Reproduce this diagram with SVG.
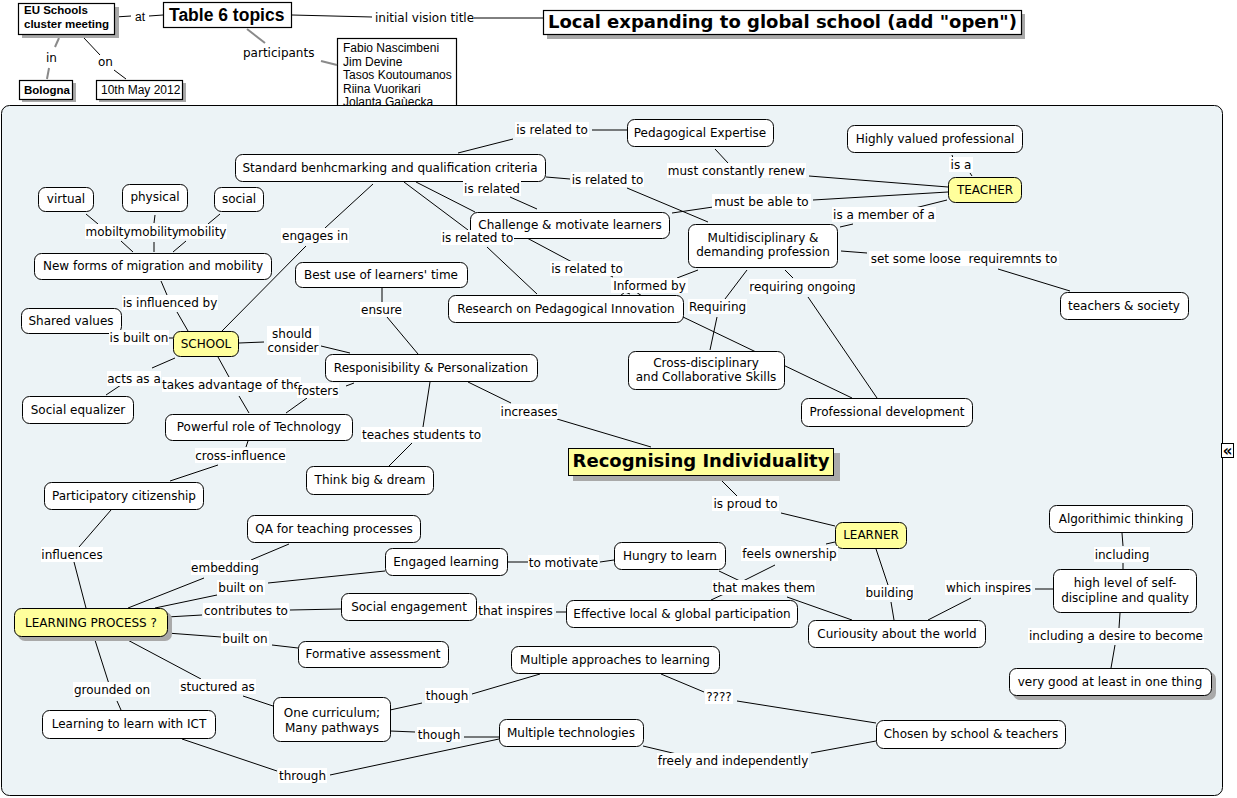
<svg xmlns="http://www.w3.org/2000/svg" width="1237" height="798" viewBox="0 0 1237 798">
<style>
.n{fill:#fff;stroke:#000;stroke-width:1}
.y{fill:#ffff9c;stroke:#000;stroke-width:1}
.b{fill:#fff;stroke:#000;stroke-width:1.2}
.sh{fill:#a9a9a9}
.t{font-family:"DejaVu Sans",Verdana,sans-serif;font-size:12px;fill:#000;text-anchor:middle}
.ts{font-family:"DejaVu Sans",Verdana,sans-serif;font-size:12px;fill:#000}
.a{font-family:"Liberation Sans",Arial,sans-serif;font-size:12px;fill:#000}
.ab{font-family:"Liberation Sans",Arial,sans-serif;font-size:11.5px;font-weight:bold;fill:#000}
.big{font-family:"DejaVu Sans",Verdana,sans-serif;font-size:18px;font-weight:bold;fill:#000}
.lb{fill:#fff}
#connectors line,#connectors polyline{stroke:#000;stroke-width:1;fill:none}
#connectors .g{stroke:#8a8a8a;stroke-width:2}
</style>

<!-- top area (outside panel) -->
<g id="participants-box">
<rect class="b" x="337.5" y="38.5" width="119" height="80"/>
<text class="a" x="343" y="52">Fabio Nascimbeni</text>
<text class="a" x="343" y="65.6">Jim Devine</text>
<text class="a" x="343" y="79.2">Tasos Koutoumanos</text>
<text class="a" x="343" y="92.8">Riina Vuorikari</text>
<text class="a" x="343" y="106.4">Jolanta Gaùecka</text>
</g>

<!-- main panel -->
<rect id="panel" x="1.5" y="105.5" width="1221" height="690" rx="8" fill="#ecf3f6" stroke="#000" stroke-width="1"/>
<g id="collapse"><rect x="1221.5" y="443.5" width="12" height="14" fill="#fff" stroke="#000"/><text x="1227.5" y="455.5" font-family="DejaVu Sans,sans-serif" font-size="15" font-weight="bold" text-anchor="middle">«</text></g>

<g id="connectors">
<!-- top -->
<line x1="115" y1="17" x2="131" y2="16"/>
<line x1="149" y1="16" x2="163" y2="15"/>
<line x1="292" y1="15" x2="372" y2="17"/>
<line x1="474" y1="18" x2="543" y2="18"/>
<line class="g" x1="247" y1="29" x2="265" y2="43"/>
<line class="g" x1="321" y1="61" x2="337" y2="65"/>
<line class="g" x1="59" y1="38" x2="55" y2="47"/>
<line class="g" x1="49" y1="68" x2="47" y2="79"/>
<line x1="84" y1="38" x2="100" y2="55"/>
<line x1="114" y1="70" x2="126" y2="79"/>
<!-- panel -->
<line x1="458" y1="153" x2="513" y2="139"/>
<line x1="592" y1="130" x2="627" y2="130"/>
<line x1="715" y1="149" x2="728" y2="163"/>
<line x1="809" y1="176" x2="948" y2="187"/>
<line x1="672" y1="213" x2="713" y2="207"/>
<line x1="813" y1="200" x2="948" y2="192"/>
<line x1="952" y1="155" x2="953" y2="158"/>
<line x1="970" y1="173" x2="972" y2="176"/>
<line x1="947" y1="200" x2="915" y2="208"/>
<line x1="853" y1="224" x2="840" y2="227"/>
<line x1="841" y1="251" x2="867" y2="253"/>
<line x1="998" y1="269" x2="1070" y2="291"/>
<line x1="546" y1="177" x2="570" y2="179"/>
<line x1="627" y1="188" x2="708" y2="222"/>
<line x1="510" y1="197" x2="537" y2="209"/>
<line x1="416" y1="182" x2="475" y2="212"/>
<line x1="404" y1="182" x2="468" y2="230"/>
<line x1="487" y1="247" x2="537" y2="294"/>
<line x1="527" y1="238" x2="572" y2="262"/>
<line x1="605" y1="273" x2="613" y2="277"/>
<polyline points="620,296 625,292 630,294"/>
<polyline points="636,292 642,296"/>
<line x1="698" y1="270" x2="677" y2="278"/>
<line x1="747" y1="270" x2="725" y2="299"/>
<line x1="717" y1="317" x2="710" y2="350"/>
<line x1="785" y1="270" x2="793" y2="278"/>
<line x1="808" y1="297" x2="877" y2="398"/>
<line x1="683" y1="317" x2="852" y2="398"/>
<line x1="373" y1="184" x2="325" y2="228"/>
<line x1="306" y1="246" x2="222" y2="331"/>
<line x1="86" y1="214" x2="98" y2="224"/>
<line x1="121" y1="241" x2="133" y2="252"/>
<line x1="155" y1="215" x2="154" y2="223"/>
<line x1="154" y1="242" x2="154" y2="252"/>
<line x1="220" y1="214" x2="208" y2="224"/>
<line x1="186" y1="241" x2="173" y2="252"/>
<line x1="161" y1="281" x2="167" y2="295"/>
<line x1="177" y1="312" x2="188" y2="331"/>
<line x1="168" y1="338" x2="173" y2="338"/>
<line x1="239" y1="343" x2="264" y2="342"/>
<line x1="321" y1="346" x2="350" y2="353"/>
<line x1="175" y1="358" x2="152" y2="368"/>
<line x1="121" y1="385" x2="106" y2="395"/>
<line x1="218" y1="357" x2="229" y2="377"/>
<line x1="239" y1="396" x2="249" y2="413"/>
<line x1="354" y1="383" x2="346" y2="386"/>
<line x1="307" y1="398" x2="286" y2="413"/>
<line x1="382" y1="288" x2="382" y2="302"/>
<line x1="387" y1="317" x2="418" y2="354"/>
<line x1="430" y1="382" x2="423" y2="427"/>
<line x1="412" y1="443" x2="389" y2="466"/>
<line x1="468" y1="382" x2="511" y2="403"/>
<line x1="557" y1="419" x2="651" y2="447"/>
<line x1="248" y1="441" x2="246" y2="447"/>
<line x1="218" y1="465" x2="170" y2="481"/>
<line x1="111" y1="510" x2="79" y2="547"/>
<line x1="74" y1="562" x2="86" y2="608"/>
<line x1="289" y1="544" x2="251" y2="560"/>
<line x1="204" y1="578" x2="128" y2="608"/>
<line x1="385" y1="571" x2="268" y2="583"/>
<line x1="217" y1="595" x2="155" y2="608"/>
<line x1="167" y1="617" x2="202" y2="615"/>
<line x1="290" y1="610" x2="341" y2="609"/>
<line x1="167" y1="633" x2="221" y2="637"/>
<line x1="272" y1="645" x2="298" y2="648"/>
<line x1="122" y1="637" x2="201" y2="679"/>
<line x1="243" y1="696" x2="273" y2="706"/>
<line x1="94" y1="637" x2="109" y2="684"/>
<line x1="117" y1="701" x2="121" y2="710"/>
<line x1="182" y1="739" x2="277" y2="771"/>
<line x1="330" y1="775" x2="499" y2="739"/>
<line x1="390" y1="710" x2="422" y2="703"/>
<line x1="472" y1="694" x2="540" y2="674"/>
<line x1="390" y1="731" x2="415" y2="732"/>
<line x1="464" y1="737" x2="499" y2="737"/>
<line x1="508" y1="562" x2="528" y2="562"/>
<line x1="600" y1="562" x2="614" y2="560"/>
<line x1="476" y1="608" x2="479" y2="612"/>
<line x1="556" y1="612" x2="566" y2="612"/>
<line x1="835" y1="542" x2="826" y2="544"/>
<line x1="775" y1="565" x2="743" y2="581"/>
<line x1="719" y1="571" x2="740" y2="581"/>
<line x1="787" y1="597" x2="852" y2="620"/>
<line x1="724" y1="594" x2="711" y2="600"/>
<line x1="876" y1="549" x2="888" y2="585"/>
<line x1="891" y1="602" x2="894" y2="620"/>
<line x1="928" y1="620" x2="971" y2="598"/>
<line x1="1035" y1="589" x2="1053" y2="589"/>
<line x1="1122" y1="533" x2="1123" y2="546"/>
<line x1="1123" y1="563" x2="1123" y2="569"/>
<line x1="1120" y1="613" x2="1119" y2="628"/>
<line x1="1115" y1="645" x2="1111" y2="668"/>
<line x1="661" y1="674" x2="704" y2="692"/>
<line x1="737" y1="701" x2="876" y2="723"/>
<line x1="643" y1="746" x2="681" y2="755"/>
<line x1="811" y1="753" x2="876" y2="741"/>
<line x1="718" y1="477" x2="737" y2="496"/>
<line x1="781" y1="513" x2="835" y2="526"/>
</g>

<!-- top nodes -->
<g id="eu-meeting"><rect class="sh" x="22" y="7" width="97" height="31"/><rect class="b" x="18.5" y="3.5" width="96" height="31"/><text class="ab" x="24" y="14">EU Schools</text><text class="ab" x="24" y="28">cluster meeting</text></g>
<g id="table6"><rect class="b" x="163.5" y="2.5" width="128" height="25"/><text x="169" y="21" font-family="Liberation Sans,Arial,sans-serif" font-size="17.5" font-weight="bold">Table 6 topics</text></g>
<g id="vision"><rect class="sh" x="547" y="14" width="478" height="25"/><rect class="b" x="543.5" y="10.5" width="478" height="24"/><text x="548" y="28" font-family="DejaVu Sans,Verdana,sans-serif" font-size="18" font-weight="bold">Local expanding to global school (add "open")</text></g>
<g id="bologna"><rect class="sh" x="22" y="83" width="54" height="19"/><rect class="b" x="19.5" y="80.5" width="53" height="19"/><text class="ab" x="24" y="94">Bologna</text></g>
<g id="date"><rect class="sh" x="99" y="83" width="87" height="19"/><rect class="b" x="96.5" y="80.5" width="86" height="19"/><text class="a" x="101" y="94">10th May 2012</text></g>

<!-- top labels -->
<g id="top-labels">
<text class="a" x="135" y="21">at</text>
<text class="ts" x="375" y="22">initial vision title</text>
<text class="ts" x="243" y="57">participants</text>
<text class="ts" x="46" y="62">in</text>
<text class="ts" x="98" y="66">on</text>
</g>

<!-- panel nodes -->
<g id="std"><rect class="n" x="235.5" y="154.5" width="310" height="27" rx="7"/><text class="t" x="390" y="172">Standard benhcmarking and qualification criteria</text></g>
<g id="ped"><rect class="n" x="627.5" y="119.5" width="146" height="27" rx="7"/><text class="t" x="700" y="137">Pedagogical Expertise</text></g>
<g id="hvp"><rect class="n" x="847.5" y="125.5" width="175" height="27" rx="7"/><text class="t" x="935" y="143">Highly valued professional</text></g>
<g id="teacher"><rect class="y" x="948.5" y="177.5" width="73" height="25" rx="7"/><text class="t" x="985" y="194">TEACHER</text></g>
<g id="virtual"><rect class="n" x="38.5" y="187.5" width="55" height="24" rx="7"/><text class="t" x="66" y="203">virtual</text></g>
<g id="physical"><rect class="n" x="122.5" y="184.5" width="65" height="27" rx="7"/><text class="t" x="155" y="201">physical</text></g>
<g id="social"><rect class="n" x="214.5" y="187.5" width="49" height="24" rx="7"/><text class="t" x="239" y="203">social</text></g>
<g id="challenge"><rect class="n" x="470.5" y="212.5" width="199" height="26" rx="7"/><text class="t" x="570" y="229">Challenge &amp; motivate learners</text></g>
<g id="multi"><rect class="n" x="688.5" y="224.5" width="149" height="43" rx="7"/><text class="t" x="763" y="242">Multidisciplinary &amp;</text><text class="t" x="763" y="256">demanding profession</text></g>
<g id="newforms"><rect class="n" x="34.5" y="253.5" width="237" height="26" rx="7"/><text class="t" x="153" y="270">New forms of migration and mobility</text></g>
<g id="bestuse"><rect class="n" x="295.5" y="262.5" width="172" height="25" rx="7"/><text class="t" x="381" y="279">Best use of learners' time</text></g>
<g id="teasoc"><rect class="n" x="1060.5" y="292.5" width="128" height="27" rx="7"/><text class="t" x="1124" y="310">teachers &amp; society</text></g>
<g id="research"><rect class="n" x="448.5" y="295.5" width="235" height="27" rx="7"/><text class="t" x="566" y="313">Research on Pedagogical Innovation</text></g>
<g id="shared"><rect class="n" x="21.5" y="308.5" width="100" height="25" rx="7"/><text class="t" x="71" y="325">Shared values</text></g>
<g id="school"><rect class="y" x="173.5" y="331.5" width="65" height="25" rx="7"/><text class="t" x="206" y="348">SCHOOL</text></g>
<g id="resp"><rect class="n" x="325.5" y="354.5" width="212" height="27" rx="7"/><text class="t" x="431" y="372">Responisibility &amp; Personalization</text></g>
<g id="cross"><rect class="n" x="628.5" y="351.5" width="156" height="38" rx="7"/><text class="t" x="706" y="367">Cross-disciplinary</text><text class="t" x="706" y="381">and Collaborative Skills</text></g>
<g id="profdev"><rect class="n" x="801.5" y="398.5" width="171" height="28" rx="7"/><text class="t" x="887" y="416">Professional development</text></g>
<g id="socialeq"><rect class="n" x="22.5" y="396.5" width="111" height="27" rx="7"/><text class="t" x="78" y="414">Social equalizer</text></g>
<g id="powerful"><rect class="n" x="165.5" y="414.5" width="187" height="26" rx="7"/><text class="t" x="259" y="431">Powerful role of Technology</text></g>
<g id="recog"><rect class="sh" x="573" y="453" width="267" height="28"/><rect class="y" x="568.5" y="448.5" width="265" height="27"/><text class="big" x="701" y="467" text-anchor="middle">Recognising Individuality</text></g>
<g id="thinkbig"><rect class="n" x="306.5" y="466.5" width="127" height="28" rx="7"/><text class="t" x="370" y="484">Think big &amp; dream</text></g>
<g id="particip"><rect class="n" x="44.5" y="482.5" width="159" height="27" rx="7"/><text class="t" x="124" y="500">Participatory citizenship</text></g>
<g id="algo"><rect class="n" x="1049.5" y="505.5" width="143" height="27" rx="7"/><text class="t" x="1121" y="523">Algorithimic thinking</text></g>
<g id="qa"><rect class="n" x="247.5" y="515.5" width="173" height="27" rx="7"/><text class="t" x="334" y="533">QA for teaching processes</text></g>
<g id="learner"><rect class="y" x="835.5" y="522.5" width="71" height="26" rx="7"/><text class="t" x="871" y="539">LEARNER</text></g>
<g id="hungry"><rect class="n" x="614.5" y="542.5" width="111" height="27" rx="7"/><text class="t" x="670" y="560">Hungry to learn</text></g>
<g id="engaged"><rect class="n" x="385.5" y="548.5" width="122" height="27" rx="7"/><text class="t" x="446" y="566">Engaged learning</text></g>
<g id="highlevel"><rect class="n" x="1053.5" y="569.5" width="143" height="43" rx="7"/><text class="t" x="1125" y="587">high level of self-</text><text class="t" x="1125" y="602">discipline and quality</text></g>
<g id="socialeng"><rect class="n" x="341.5" y="593.5" width="135" height="27" rx="7"/><text class="t" x="409" y="611">Social engagement</text></g>
<g id="effective"><rect class="n" x="566.5" y="600.5" width="231" height="27" rx="7"/><text class="t" x="682" y="618">Effective local &amp; global participation</text></g>
<g id="learnproc"><rect class="sh" x="18" y="612" width="154" height="29" rx="7"/><rect class="y" x="14.5" y="608.5" width="153" height="28" rx="7"/><text class="t" x="91" y="627">LEARNING PROCESS ?</text></g>
<g id="curious"><rect class="n" x="808.5" y="620.5" width="177" height="27" rx="7"/><text class="t" x="897" y="638">Curiousity about the world</text></g>
<g id="formative"><rect class="n" x="298.5" y="641.5" width="150" height="26" rx="7"/><text class="t" x="373" y="658">Formative assessment</text></g>
<g id="multiapp"><rect class="n" x="511.5" y="646.5" width="208" height="27" rx="7"/><text class="t" x="615" y="664">Multiple approaches to learning</text></g>
<g id="verygood"><rect class="sh" x="1013" y="672" width="203" height="28" rx="7"/><rect class="n" x="1009.5" y="668.5" width="202" height="27" rx="7"/><text class="t" x="1110" y="686">very good at least in one thing</text></g>
<g id="learnict"><rect class="n" x="42.5" y="710.5" width="173" height="28" rx="7"/><text class="t" x="129" y="728">Learning to learn with ICT</text></g>
<g id="onecur"><rect class="n" x="273.5" y="697.5" width="117" height="44" rx="7"/><text class="t" x="332" y="717">One curriculum;</text><text class="t" x="332" y="732">Many pathways</text></g>
<g id="multitech"><rect class="n" x="499.5" y="719.5" width="144" height="27" rx="7"/><text class="t" x="571" y="737">Multiple technologies</text></g>
<g id="chosen"><rect class="n" x="876.5" y="720.5" width="189" height="28" rx="7"/><text class="t" x="971" y="738">Chosen by school &amp; teachers</text></g>

<!-- linking phrases -->
<g id="link-labels">
<rect class="lb" x="515" y="122" width="74" height="15"/><text class="t" x="552" y="134">is related to</text>
<rect class="lb" x="667" y="163" width="139" height="15"/><text class="t" x="736.5" y="175">must constantly renew</text>
<rect class="lb" x="712" y="194" width="99" height="15"/><text class="t" x="761.5" y="206">must be able to</text>
<rect class="lb" x="949" y="157" width="24" height="15"/><text class="t" x="961" y="169">is a</text>
<rect class="lb" x="832" y="207" width="104" height="15"/><text class="t" x="884" y="219">is a member of a</text>
<rect class="lb" x="869" y="251" width="190" height="15"/><text class="t" x="964" y="263" xml:space="preserve">set some loose  requiremnts to</text>
<rect class="lb" x="571" y="172" width="73" height="15"/><text class="t" x="607.5" y="184">is related to</text>
<rect class="lb" x="463" y="181" width="58" height="15"/><text class="t" x="492" y="193">is related</text>
<rect class="lb" x="441" y="230" width="73" height="15"/><text class="t" x="477.5" y="242">is related to</text>
<rect class="lb" x="550" y="261" width="74" height="15"/><text class="t" x="587" y="273">is related to</text>
<rect class="lb" x="611" y="278" width="77" height="15"/><text class="t" x="649.5" y="290">Informed by</text>
<rect class="lb" x="688" y="299" width="59" height="15"/><text class="t" x="717.5" y="311">Requiring</text>
<rect class="lb" x="749" y="279" width="107" height="15"/><text class="t" x="802.5" y="291">requiring ongoing</text>
<rect class="lb" x="281" y="228" width="68" height="15"/><text class="t" x="315" y="240">engages in</text>
<rect class="lb" x="178" y="224" width="49" height="15"/><text class="ts" x="178" y="236">mobility</text>
<rect class="lb" x="85" y="224" width="46" height="15"/><text class="ts" x="85.5" y="236">mobilty</text>
<rect class="lb" x="131" y="224" width="47" height="15"/><text class="ts" x="130.5" y="236">mobility</text>
<rect class="lb" x="122" y="295" width="96" height="15"/><text class="t" x="170" y="307">is influenced by</text>
<rect class="lb" x="109" y="330" width="60" height="15"/><text class="t" x="139" y="342">is built on</text>
<rect class="lb" x="267" y="326" width="52" height="29"/><text class="t" x="292" y="338">should</text><text class="t" x="293" y="352">consider</text>
<rect class="lb" x="107" y="371" width="54" height="15"/><text class="t" x="134" y="383">acts as a</text>
<rect class="lb" x="162" y="377" width="139" height="15"/><text class="t" x="231.5" y="389">takes advantage of the</text>
<rect class="lb" x="297" y="383" width="42" height="15"/><text class="t" x="318" y="395">fosters</text>
<rect class="lb" x="360" y="302" width="43" height="15"/><text class="t" x="381.5" y="314">ensure</text>
<rect class="lb" x="361" y="427" width="121" height="15"/><text class="t" x="421.5" y="439">teaches students to</text>
<rect class="lb" x="500" y="404" width="58" height="15"/><text class="t" x="529" y="416">increases</text>
<rect class="lb" x="195" y="448" width="91" height="15"/><text class="t" x="240.5" y="460">cross-influence</text>
<rect class="lb" x="41" y="547" width="62" height="15"/><text class="t" x="72" y="559">influences</text>
<rect class="lb" x="191" y="560" width="68" height="15"/><text class="t" x="225" y="572">embedding</text>
<rect class="lb" x="217" y="580" width="48" height="15"/><text class="t" x="241" y="592">built on</text>
<rect class="lb" x="203" y="603" width="86" height="15"/><text class="t" x="246" y="615">contributes to</text>
<rect class="lb" x="221" y="631" width="48" height="15"/><text class="t" x="245" y="643">built on</text>
<rect class="lb" x="179" y="679" width="77" height="15"/><text class="t" x="217.5" y="691">stuctured as</text>
<rect class="lb" x="73" y="682" width="78" height="15"/><text class="t" x="112" y="694">grounded on</text>
<rect class="lb" x="278" y="768" width="49" height="15"/><text class="t" x="302.5" y="780">through</text>
<rect class="lb" x="425" y="688" width="44" height="15"/><text class="t" x="447" y="700">though</text>
<rect class="lb" x="417" y="727" width="44" height="15"/><text class="t" x="439" y="739">though</text>
<rect class="lb" x="528" y="555" width="71" height="15"/><text class="t" x="563.5" y="567">to motivate</text>
<rect class="lb" x="477" y="603" width="77" height="15"/><text class="t" x="515.5" y="615">that inspires</text>
<rect class="lb" x="741" y="546" width="97" height="15"/><text class="t" x="789.5" y="558">feels ownership</text>
<rect class="lb" x="712" y="580" width="104" height="15"/><text class="t" x="764" y="592">that makes them</text>
<rect class="lb" x="865" y="585" width="49" height="15"/><text class="t" x="889.5" y="597">building</text>
<rect class="lb" x="945" y="580" width="87" height="15"/><text class="t" x="988.5" y="592">which inspires</text>
<rect class="lb" x="1094" y="547" width="56" height="15"/><text class="t" x="1122" y="559">including</text>
<rect class="lb" x="1028" y="628" width="176" height="15"/><text class="t" x="1116" y="640">including a desire to become</text>
<rect class="lb" x="705" y="689" width="28" height="15"/><text class="t" x="719" y="701">????</text>
<rect class="lb" x="657" y="753" width="152" height="15"/><text class="t" x="733" y="765">freely and independently</text>
<rect class="lb" x="712" y="496" width="67" height="15"/><text class="t" x="745.5" y="508">is proud to</text>
</g>
</svg>
